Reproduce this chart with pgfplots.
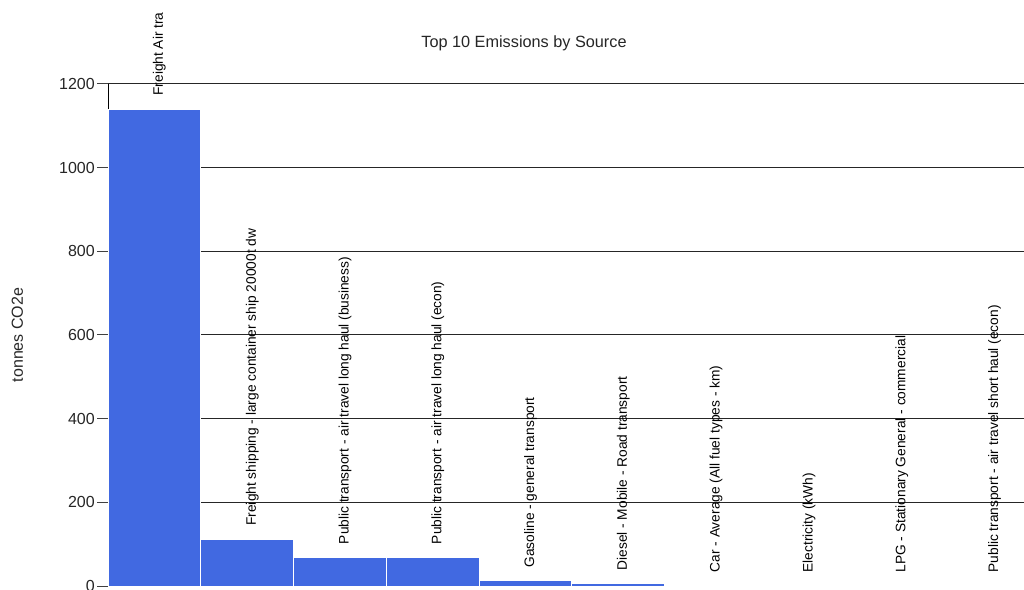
\documentclass[border=0pt]{standalone}
\usepackage{fontspec}
\setmainfont{Liberation Sans}
\usepackage{pgfplots}
\usepackage{pgfplotstable}
\pgfplotsset{compat=1.18}
\definecolor{barblue}{HTML}{4169E1}

% top 10 sources, tonnes CO2e
\pgfplotstableread[col sep=semicolon]{
x;y;label
0;1140;Freight Air tra
1;112;Freight shipping - large container ship 20000t dw
2;68;Public transport - air travel long haul (business)
3;68;Public transport - air travel long haul (econ)
4;12;Gasoline - general transport
5;5;Diesel - Mobile - Road transport
6;0.6;Car - Average (All fuel types - km)
7;0.4;Electricity (kWh)
8;0.3;LPG - Stationary General - commercial
9;0.2;Public transport - air travel short haul (econ)
}\emissions

\begin{document}
\begin{tikzpicture}
\useasboundingbox (0,0) rectangle (768pt,441.75pt);
\clip (0,0) rectangle (768pt,441.75pt);
\begin{axis}[
  at={(81pt,2.25pt)}, anchor=south west,
  scale only axis,
  width=687pt, height=376.5pt,
  xmin=-0.5, xmax=9.371,
  ymin=0, ymax=1200,
  clip=false,
  axis x line=none,
  axis y line*=left,
  axis line style={-, black, line width=0.75pt},
  ytick={200,400,...,1200},
  extra y ticks={0},
  extra y tick style={grid=none},
  ymajorgrids,
  grid style={black!85, line width=0.75pt},
  tick align=outside,
  major tick length=8.25pt,
  ytick style={black!75, line width=0.75pt},
  yticklabel style={font=\fontsize{12}{14}\selectfont, text=black!85, inner sep=1.5pt},
  /pgf/number format/1000 sep={},
  /pgf/number format/assume math mode=true,
  ybar, bar width=1,
  point meta=explicit symbolic,
  nodes near coords,
  every node near coord/.append style={font=\fontsize{10.3}{12}\selectfont, text=black,
    xshift=3.75pt, yshift=9.75pt, rotate=90, anchor=west, inner sep=0pt},
]
\addplot[fill=barblue, draw=white, line width=0.75pt]
  table[x=x, y=y, meta=label] {\emissions};
\end{axis}
\node[font=\fontsize{12.2}{14}\selectfont, text=black!85] at (393pt,409.5pt) {Top 10 Emissions by Source};
\node[font=\fontsize{12}{14}\selectfont, text=black!85, rotate=90] at (13.1pt,190.5pt) {tonnes CO2e};
\end{tikzpicture}
\end{document}
